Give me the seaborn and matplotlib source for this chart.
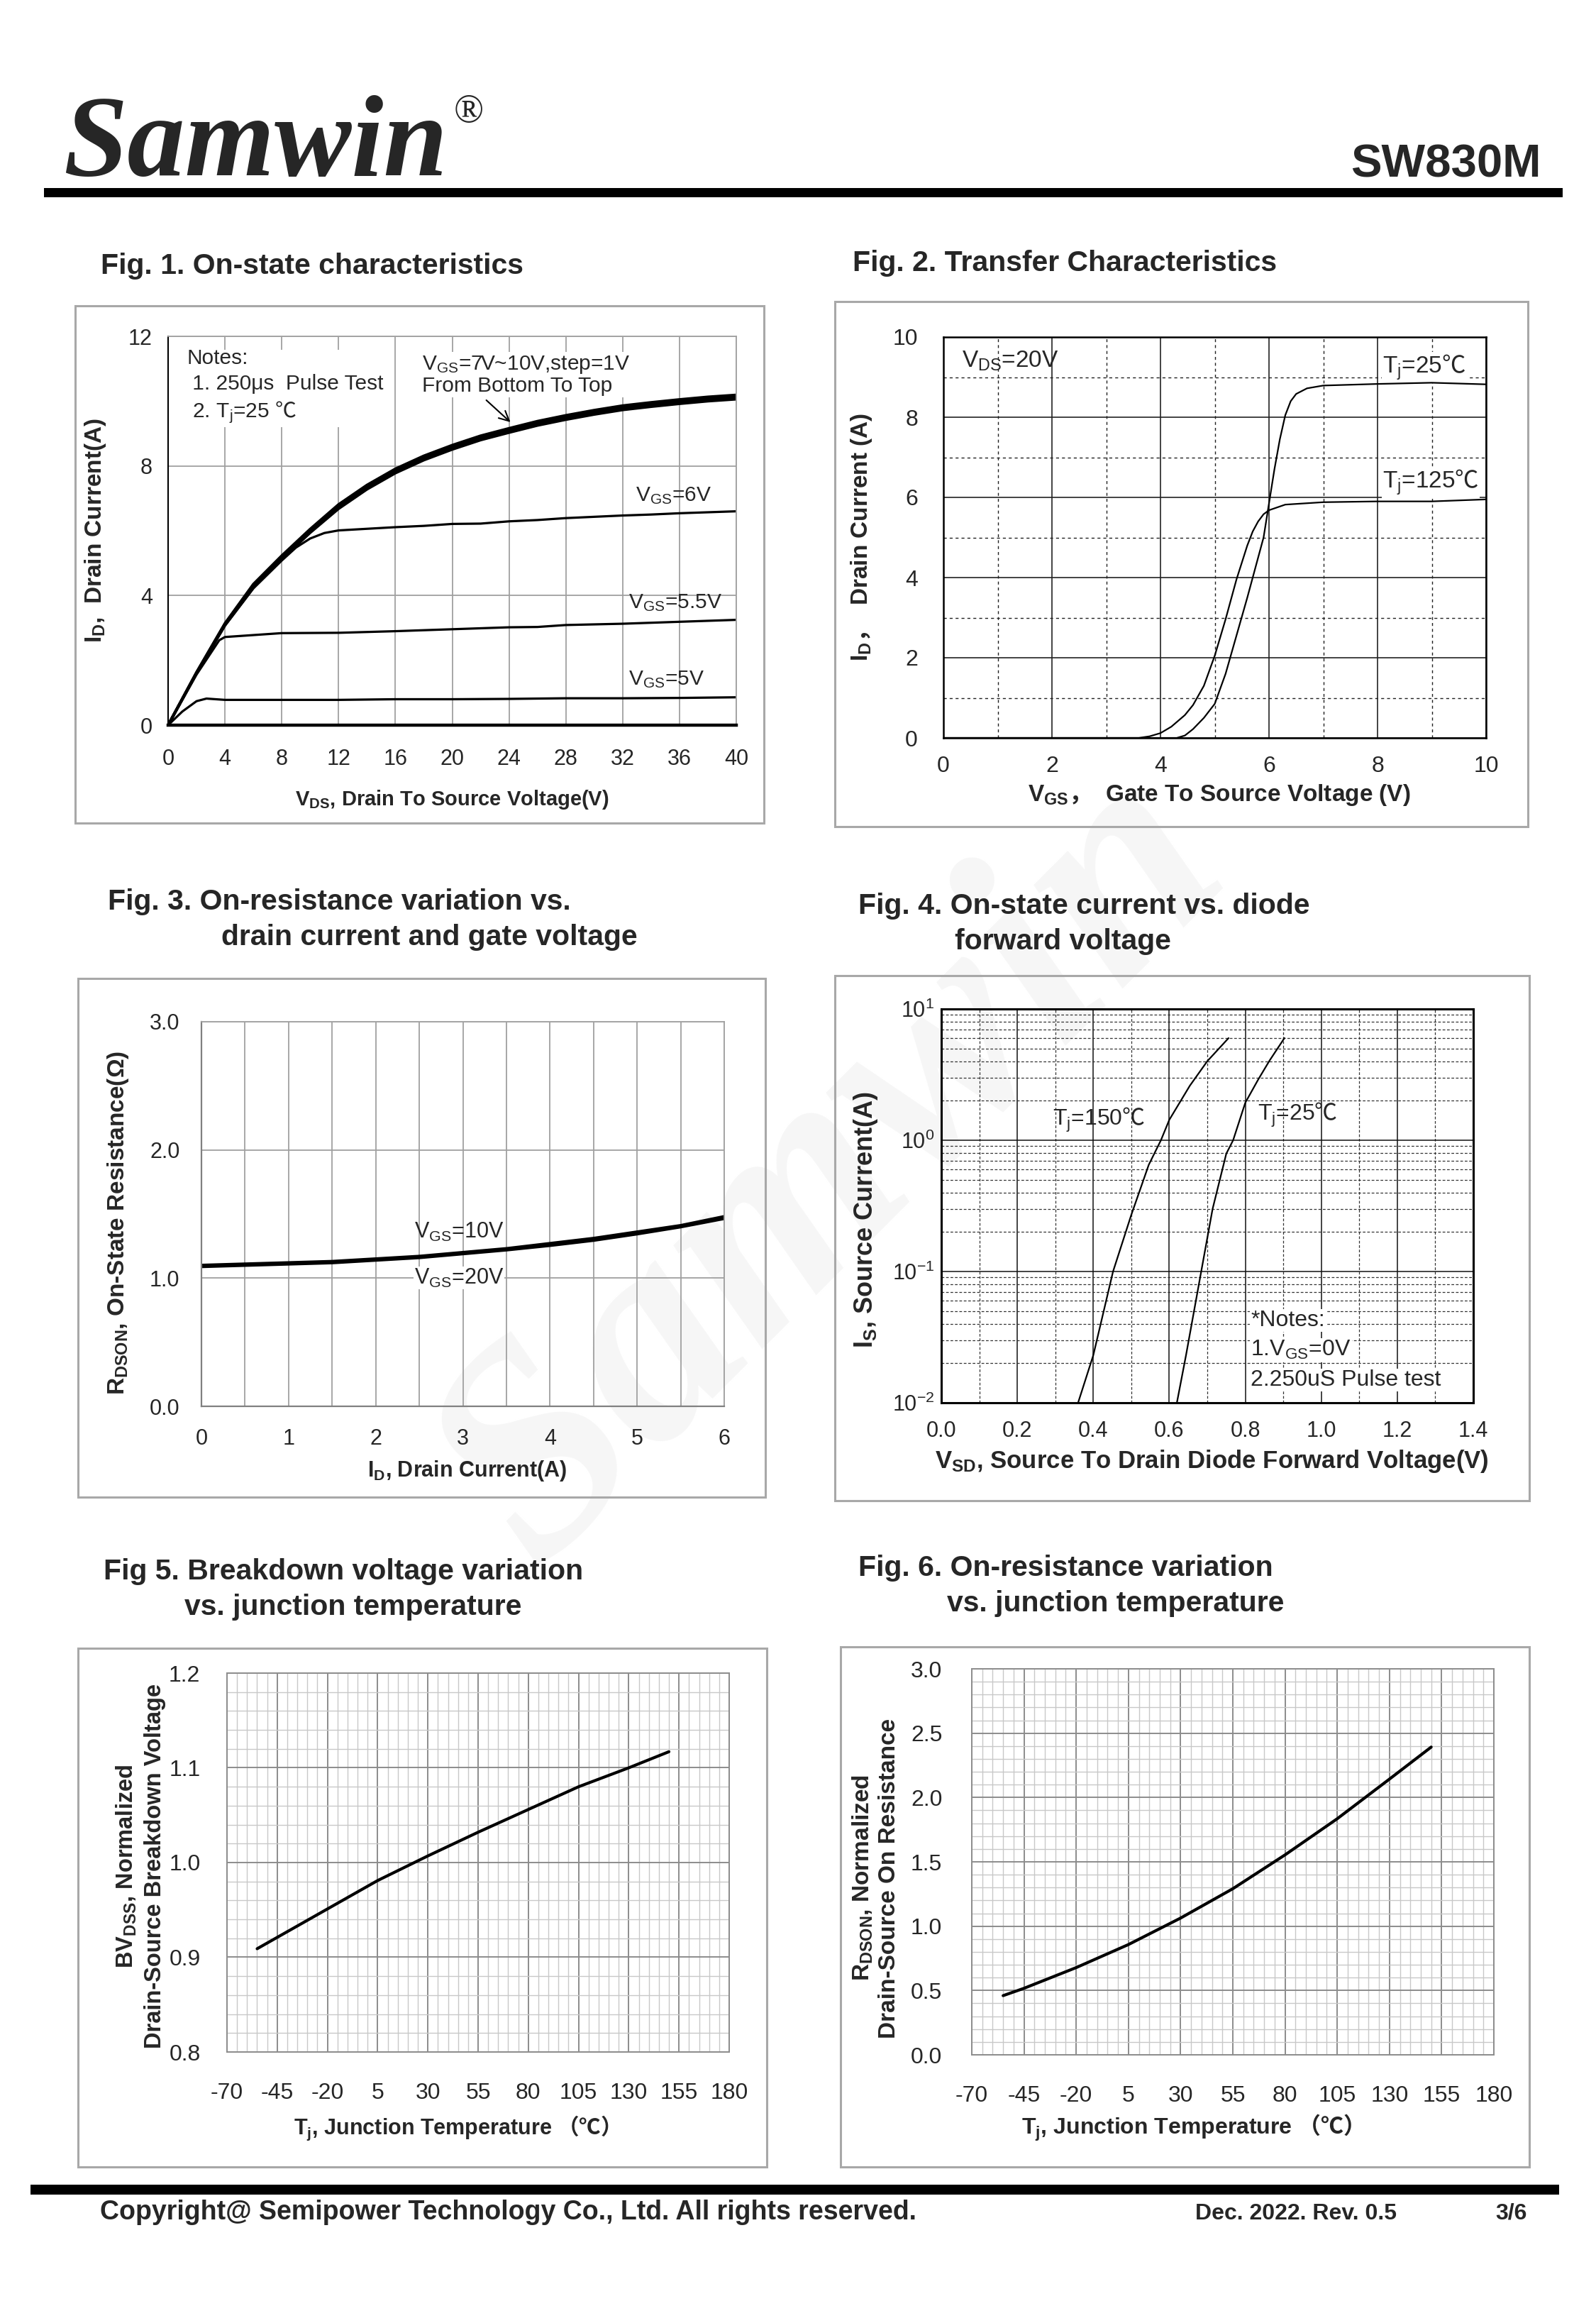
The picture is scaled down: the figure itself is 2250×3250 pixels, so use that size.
import matplotlib
matplotlib.use('Agg')
import matplotlib.pyplot as plt
import seaborn as sns
from matplotlib.patches import Rectangle
from matplotlib.ticker import MultipleLocator, FormatStrFormatter, LogLocator, NullFormatter

# ---- values ----
# Fig 1: on-state characteristics, VDS (V) -> ID (A)
vds = [0, 2, 4, 6, 8, 10, 12, 14, 16, 18, 20, 22, 24, 26, 28, 30, 32, 34, 36, 38, 40]
id_7v = [0, 1.60, 3.08, 4.24, 5.12, 5.94, 6.68, 7.28, 7.78, 8.18, 8.51, 8.80, 9.03, 9.25, 9.43, 9.59, 9.73, 9.83, 9.92, 10.00, 10.06]
id_8v = [0, 1.61, 3.10, 4.28, 5.16, 5.98, 6.73, 7.33, 7.83, 8.23, 8.56, 8.85, 9.08, 9.30, 9.48, 9.64, 9.78, 9.88, 9.97, 10.05, 10.11]
id_9v = [0, 1.62, 3.12, 4.32, 5.20, 6.02, 6.77, 7.37, 7.87, 8.27, 8.60, 8.89, 9.12, 9.34, 9.52, 9.68, 9.82, 9.92, 10.01, 10.09, 10.15]
id_10v = [0, 1.63, 3.14, 4.35, 5.23, 6.05, 6.81, 7.41, 7.91, 8.31, 8.64, 8.93, 9.16, 9.38, 9.56, 9.72, 9.86, 9.96, 10.05, 10.13, 10.19]
vds_6v = [0, 2, 4, 6, 8, 9, 10, 11, 12, 14, 16, 18, 20, 22, 24, 26, 28, 30, 32, 34, 36, 38, 40]
id_6v = [0, 1.60, 3.07, 4.22, 5.08, 5.48, 5.76, 5.93, 6.01, 6.06, 6.11, 6.15, 6.21, 6.22, 6.29, 6.33, 6.39, 6.43, 6.47, 6.50, 6.54, 6.57, 6.60]
vds_55v = [0, 2, 3.6, 4, 6, 8, 12, 16, 20, 24, 26, 28, 32, 36, 40]
id_55v = [0, 1.56, 2.62, 2.72, 2.78, 2.84, 2.85, 2.90, 2.96, 3.02, 3.03, 3.09, 3.13, 3.19, 3.25]
vds_5v = [0, 1, 2, 2.7, 4, 8, 12, 16, 20, 24, 28, 32, 36, 40]
id_5v = [0, 0.42, 0.74, 0.82, 0.78, 0.78, 0.78, 0.80, 0.80, 0.81, 0.83, 0.83, 0.84, 0.86]

# Fig 2: transfer characteristics, VGS (V) -> ID (A)
vgs_25 = [0, 4.3, 4.45, 4.6, 4.8, 5.0, 5.2, 5.4, 5.6, 5.8, 5.9, 6.0, 6.1, 6.2, 6.3, 6.4, 6.5, 6.7, 7.0, 8.0, 9.0, 10.0]
id_25 = [0, 0, 0.06, 0.22, 0.50, 0.85, 1.60, 2.55, 3.50, 4.50, 5.00, 5.85, 6.70, 7.45, 8.05, 8.40, 8.58, 8.72, 8.79, 8.83, 8.86, 8.82]
vgs_125 = [0, 3.6, 3.8, 4.0, 4.2, 4.45, 4.6, 4.8, 5.0, 5.2, 5.4, 5.6, 5.7, 5.8, 5.9, 6.0, 6.3, 7.0, 8.0, 9.0, 10.0]
id_125 = [0, 0, 0.04, 0.12, 0.28, 0.57, 0.82, 1.30, 2.05, 2.96, 3.95, 4.80, 5.15, 5.40, 5.58, 5.68, 5.82, 5.88, 5.90, 5.90, 5.95]

# Fig 3: on-resistance vs drain current
id_r = [0, 0.5, 1, 1.5, 2, 2.5, 3, 3.5, 4, 4.5, 5, 5.5, 6]
rds_10v = [1.10, 1.11, 1.12, 1.13, 1.15, 1.17, 1.20, 1.23, 1.27, 1.31, 1.36, 1.41, 1.48]
rds_20v = [1.09, 1.10, 1.11, 1.12, 1.14, 1.16, 1.19, 1.22, 1.255, 1.295, 1.345, 1.40, 1.465]

# Fig 4: body diode, VSD (V) -> IS (A)
vsd_150 = [0.36, 0.40, 0.452, 0.50, 0.546, 0.578, 0.60, 0.654, 0.70, 0.756]
is_150 = [0.01, 0.023, 0.1, 0.27, 0.65, 1.0, 1.43, 2.6, 4.0, 6.0]
vsd_25 = [0.62, 0.644, 0.684, 0.714, 0.75, 0.768, 0.80, 0.834, 0.864, 0.903]
is_25 = [0.01, 0.023, 0.1, 0.30, 0.79, 1.0, 1.93, 2.9, 4.05, 6.0]

# Fig 5 / Fig 6: vs junction temperature
tj = [-55, -45, -20, 5, 30, 55, 80, 105, 130, 150]
bvdss = [0.909, 0.921, 0.951, 0.981, 1.007, 1.032, 1.056, 1.080, 1.100, 1.117]
rdson_norm = [0.46, 0.517, 0.678, 0.857, 1.063, 1.291, 1.554, 1.835, 2.143, 2.392]

temp_ticks = [-70, -45, -20, 5, 30, 55, 80, 105, 130, 155, 180]

# ---- style ----
sns.set_theme(style='white')
plt.rcParams['font.family'] = ['Liberation Sans', 'Noto Sans CJK SC', 'DejaVu Sans']
plt.rcParams['mathtext.fontset'] = 'custom'
plt.rcParams['mathtext.rm'] = 'Liberation Sans'
plt.rcParams['mathtext.it'] = 'Liberation Sans:italic'
plt.rcParams['mathtext.bf'] = 'Liberation Sans:bold'
plt.rcParams['mathtext.sf'] = 'Noto Sans CJK SC'
plt.rcParams['mathtext.tt'] = 'Noto Sans CJK SC:bold'
plt.rcParams['axes.unicode_minus'] = False

W, H = 2250, 3250
fig = plt.figure(figsize=(W / 100, H / 100), dpi=100)
fig.patch.set_facecolor('white')


def add_ax(x0, y0, x1, y1):
    ax = fig.add_axes([x0 / W, 1 - y1 / H, (x1 - x0) / W, (y1 - y0) / H])
    ax.set_facecolor('none')
    ax.set_axisbelow(True)
    return ax


def ftext(x, y, s, **kw):
    return fig.text(x / W, 1 - y / H, s, **kw)


def panel(x0, y0, x1, y1):
    fig.add_artist(Rectangle((x0 / W, 1 - y1 / H), (x1 - x0) / W, (y1 - y0) / H,
                             transform=fig.transFigure, fill=False, ec='#a8a8a8', lw=2.2))


def bar(x0, y0, x1, y1):
    fig.add_artist(Rectangle((x0 / W, 1 - y1 / H), (x1 - x0) / W, (y1 - y0) / H,
                             transform=fig.transFigure, fc='black', ec='none'))


def line(ax, x, y, lw):
    sns.lineplot(x=x, y=y, ax=ax, color='black', linewidth=lw, sort=False, estimator=None)


WHITE = dict(fc='white', ec='none', pad=1)

# faint watermark behind everything
fig.text(1177 / W, 1 - 1650 / H, 'Samwin', rotation=45, fontsize=300, family='Liberation Serif',
         weight='bold', style='italic', color='#f6f6f6', ha='center', va='center', zorder=-10)

# ---- page header / footer ----
ftext(89, 247, 'Samwin', family='Liberation Serif', weight='bold', style='italic',
      fontsize=117, ha='left', va='baseline')
ftext(640, 158, '®', family='Liberation Serif', fontsize=40, ha='left', va='center')
ftext(2173, 250, 'SW830M', weight='bold', fontsize=47, ha='right', va='baseline')
bar(62, 265, 2203, 278)
bar(43, 3079, 2198, 3093)
ftext(141, 3118, 'Copyright@ Semipower Technology Co., Ltd. All rights reserved.',
      weight='bold', fontsize=27, ha='left', va='center')
ftext(1685, 3120, 'Dec. 2022. Rev. 0.5', weight='bold', fontsize=23, ha='left', va='center')
ftext(2108, 3120, '3/6', weight='bold', fontsize=23, ha='left', va='center')

TITLE = 29.5
ftext(142, 375, 'Fig. 1. On-state characteristics', weight='bold', fontsize=TITLE, va='center')
ftext(1202, 371, 'Fig. 2. Transfer Characteristics', weight='bold', fontsize=TITLE, va='center')
ftext(152, 1271, 'Fig. 3. On-resistance variation vs.', weight='bold', fontsize=TITLE, va='center')
ftext(312, 1321, 'drain current and gate voltage', weight='bold', fontsize=TITLE, va='center')
ftext(1210, 1277, 'Fig. 4. On-state current vs. diode', weight='bold', fontsize=TITLE, va='center')
ftext(1346, 1327, 'forward voltage', weight='bold', fontsize=TITLE, va='center')
ftext(146, 2215, 'Fig 5. Breakdown voltage variation', weight='bold', fontsize=TITLE, va='center')
ftext(260, 2265, 'vs. junction temperature', weight='bold', fontsize=TITLE, va='center')
ftext(1210, 2210, 'Fig. 6. On-resistance variation', weight='bold', fontsize=TITLE, va='center')
ftext(1335, 2260, 'vs. junction temperature', weight='bold', fontsize=TITLE, va='center')

panel(106, 431, 1077, 1160)
panel(1177, 425, 2154, 1165)
panel(110, 1379, 1079, 2110)
panel(1177, 1375, 2156, 2115)
panel(110, 2323, 1081, 3054)
panel(1185, 2321, 2156, 3054)

# ---- Fig 1 ----
ax1 = add_ax(237, 474, 1038, 1022)
for series in [id_7v, id_8v, id_9v, id_10v]:
    line(ax1, vds, series, 2.8)
line(ax1, vds_6v, id_6v, 2.3)
line(ax1, vds_55v, id_55v, 2.3)
line(ax1, vds_5v, id_5v, 2.3)
ax1.set_xlim(0, 40)
ax1.set_ylim(0, 12)
ax1.xaxis.set_major_locator(MultipleLocator(4))
ax1.yaxis.set_major_locator(MultipleLocator(4))
ax1.grid(True, color='#a0a0a0', lw=1.3)
for s in ['top', 'right']:
    ax1.spines[s].set_color('#a0a0a0')
    ax1.spines[s].set_linewidth(1.3)
ax1.spines['left'].set_color('black')
ax1.spines['left'].set_linewidth(1.5)
ax1.spines['bottom'].set_color('black')
ax1.spines['bottom'].set_linewidth(3.2)
ax1.tick_params(direction='out', length=4, width=1.2, color='black', labelsize=22)
ax1.tick_params(axis='x', pad=20)
ax1.tick_params(axis='y', pad=12)
ax1.set_xlabel('')
ax1.set_ylabel('')
ax1.text(1.3, 11.62, 'Notes:\n 1. 250μs  Pulse Test\n 2. T$_{\\mathrm{j}}$=25 $\\mathsf{℃}$', fontsize=21.5,
         ha='left', va='top', linespacing=1.35, bbox=dict(fc='white', ec='none', pad=2), zorder=1.5)
ax1.text(17.9, 11.45, 'V$_{\\mathrm{GS}}$=7V~10V,step=1V\nFrom Bottom To Top', fontsize=21.5,
         ha='left', va='top', linespacing=1.05, bbox=WHITE, zorder=1.5)
ax1.annotate('', xy=(24.2, 9.31), xytext=(22.3, 10.07),
             arrowprops=dict(arrowstyle='->', color='black', lw=1.5, mutation_scale=25))
ax1.text(32.9, 7.08, 'V$_{\\mathrm{GS}}$=6V', fontsize=21.5, ha='left', va='center')
ax1.text(32.4, 3.77, 'V$_{\\mathrm{GS}}$=5.5V', fontsize=21.5, ha='left', va='center')
ax1.text(32.4, 1.41, 'V$_{\\mathrm{GS}}$=5V', fontsize=21.5, ha='left', va='center')
ftext(637, 1127, 'V$_{\\mathbf{DS}}$, Drain To Source Voltage(V)', weight='bold', fontsize=21,
      ha='center', va='center')
ftext(135, 748, 'I$_{\\mathbf{D}}$,  Drain Current(A)', weight='bold', fontsize=24,
      ha='center', va='center', rotation=90)

# ---- Fig 2 ----
ax2 = add_ax(1330, 475, 2095, 1040)
line(ax2, vgs_25, id_25, 1.6)
line(ax2, vgs_125, id_125, 1.6)
ax2.set_xlim(0, 10)
ax2.set_ylim(0, 10)
ax2.xaxis.set_major_locator(MultipleLocator(2))
ax2.xaxis.set_minor_locator(MultipleLocator(1))
ax2.yaxis.set_major_locator(MultipleLocator(2))
ax2.yaxis.set_minor_locator(MultipleLocator(1))
ax2.grid(True, which='major', color='#222222', lw=1.2)
ax2.grid(True, which='minor', color='#222222', lw=1.0, ls=(0, (3, 3)))
for s in ax2.spines.values():
    s.set_color('black')
    s.set_linewidth(1.8)
ax2.tick_params(which='both', direction='out', length=6, width=1.2, color='black', labelsize=23)
ax2.tick_params(axis='x', which='major', pad=12)
ax2.tick_params(axis='y', which='major', pad=20)
ax2.set_xlabel('')
ax2.set_ylabel('')
ax2.text(0.34, 9.4, 'V$_{\\mathrm{DS}}$=20V', fontsize=24, ha='left', va='center')
ax2.text(8.09, 9.24, 'T$_{\\mathrm{j}}$=25$\\mathsf{℃}$', fontsize=24, ha='left', va='center',
         bbox=WHITE, zorder=1.5)
ax2.text(8.09, 6.37, 'T$_{\\mathrm{j}}$=125$\\mathsf{℃}$', fontsize=24, ha='left', va='center',
         bbox=WHITE, zorder=1.5)
ftext(1719, 1120, 'V$_{\\mathbf{GS}}\\mathtt{，}$  Gate To Source Voltage (V)', weight='bold',
      fontsize=24, ha='center', va='center')
ftext(1215, 757, 'I$_{\\mathbf{D}}\\mathtt{，}$  Drain Current (A)', weight='bold', fontsize=24,
      ha='center', va='center', rotation=90)

# ---- Fig 3 ----
ax3 = add_ax(284, 1440, 1021, 1982)
line(ax3, id_r, rds_10v, 3.2)
line(ax3, id_r, rds_20v, 3.2)
ax3.set_xlim(0, 6)
ax3.set_ylim(0, 3)
ax3.xaxis.set_major_locator(MultipleLocator(1))
ax3.xaxis.set_minor_locator(MultipleLocator(0.5))
ax3.yaxis.set_major_locator(MultipleLocator(1))
ax3.yaxis.set_major_formatter(FormatStrFormatter('%.1f'))
ax3.grid(True, which='both', axis='x', color='#a0a0a0', lw=1.3)
ax3.grid(True, which='major', axis='y', color='#a0a0a0', lw=1.3)
for s in ['top', 'right']:
    ax3.spines[s].set_color('#a0a0a0')
    ax3.spines[s].set_linewidth(1.3)
for s in ['left', 'bottom']:
    ax3.spines[s].set_color('#808080')
    ax3.spines[s].set_linewidth(1.6)
ax3.tick_params(which='major', direction='out', length=6, width=1.2, color='#808080', labelsize=22)
ax3.tick_params(which='minor', length=0)
ax3.tick_params(axis='x', pad=16)
ax3.tick_params(axis='y', pad=16)
ax3.set_xlabel('')
ax3.set_ylabel('')
ax3.text(2.44, 1.36, 'V$_{\\mathrm{GS}}$=10V', fontsize=22, ha='left', va='center')
ax3.text(2.44, 1.0, 'V$_{\\mathrm{GS}}$=20V', fontsize=22, ha='left', va='center',
         bbox=dict(fc='white', ec='none', pad=0.5), zorder=1.5)
ftext(659, 2073, 'I$_{\\mathbf{D}}$, Drain Current(A)', weight='bold', fontsize=22,
      ha='center', va='center')
ftext(167, 1723, 'R$_{\\mathbf{DSON}}$, On-State Resistance(Ω)', weight='bold', fontsize=24,
      ha='center', va='center', rotation=90)

# ---- Fig 4 ----
ax4 = add_ax(1327, 1422, 2077, 1977)
line(ax4, vsd_150, is_150, 1.6)
line(ax4, vsd_25, is_25, 1.6)
ax4.set_yscale('log')
ax4.set_xlim(0, 1.4)
ax4.set_ylim(0.01, 10)
ax4.xaxis.set_major_locator(MultipleLocator(0.2))
ax4.xaxis.set_minor_locator(MultipleLocator(0.1))
ax4.xaxis.set_major_formatter(FormatStrFormatter('%.1f'))
ax4.yaxis.set_major_locator(LogLocator(base=10, numticks=10))
ax4.yaxis.set_minor_locator(LogLocator(base=10, subs=range(2, 10), numticks=10))
ax4.yaxis.set_minor_formatter(NullFormatter())
ax4.grid(True, which='major', color='#111111', lw=1.1)
ax4.grid(True, which='minor', color='#333333', lw=0.9, ls=(0, (3, 2)))
for s in ax4.spines.values():
    s.set_color('black')
    s.set_linewidth(2.2)
ax4.tick_params(which='major', direction='out', length=8, width=1.5, color='black', labelsize=22)
ax4.tick_params(which='minor', direction='out', length=5, width=1.2, color='black')
ax4.tick_params(axis='x', which='major', pad=10)
ax4.tick_params(axis='y', which='both', length=4)
ax4.tick_params(axis='y', which='major', pad=3)
ax4.set_xlabel('')
ax4.set_ylabel('')
ax4.text(0.293, 1.42, 'T$_{\\mathrm{j}}$=150$\\mathsf{℃}$', fontsize=23, ha='left', va='center')
ax4.text(0.833, 1.55, 'T$_{\\mathrm{j}}$=25$\\mathsf{℃}$', fontsize=23, ha='left', va='center')
for yy, s in [(0.0424, '*Notes:'), (0.0252, '1.V$_{\\mathrm{GS}}$=0V'), (0.0149, '2.250uS Pulse test')]:
    ax4.text(0.814, yy, s, fontsize=23, ha='left', va='center', bbox=WHITE, zorder=1.5)
ftext(1708, 2060, 'V$_{\\mathbf{SD}}$, Source To Drain Diode Forward Voltage(V)', weight='bold',
      fontsize=25, ha='center', va='center')
ftext(1221, 1719, 'I$_{\\mathbf{S}}$, Source Current(A)', weight='bold', fontsize=26,
      ha='center', va='center', rotation=90)


# ---- Fig 5 / Fig 6 ----
def temp_axes(ax, ymin, ymax, ymaj, ymin_step):
    ax.set_xlim(-70, 180)
    ax.set_ylim(ymin, ymax)
    ax.set_xticks(temp_ticks)
    ax.xaxis.set_minor_locator(MultipleLocator(5))
    ax.yaxis.set_major_locator(MultipleLocator(ymaj))
    ax.yaxis.set_minor_locator(MultipleLocator(ymin_step))
    ax.yaxis.set_major_formatter(FormatStrFormatter('%.1f'))
    ax.grid(True, which='minor', color='#c8c8c8', lw=1.0)
    ax.grid(True, which='major', color='#8c8c8c', lw=1.4)
    for s in ax.spines.values():
        s.set_color('#8c8c8c')
        s.set_linewidth(1.4)
    ax.tick_params(which='minor', length=0)
    ax.tick_params(axis='x', which='major', direction='out', length=9, width=1.2,
                   color='#8c8c8c', labelsize=23, pad=22)
    ax.tick_params(axis='y', which='major', length=0, labelsize=23, pad=27)
    ax.set_xlabel('')
    ax.set_ylabel('')


ax5 = add_ax(320, 2358, 1028, 2892)
line(ax5, tj, bvdss, 3.0)
temp_axes(ax5, 0.8, 1.2, 0.1, 0.02)
ftext(636, 2999, 'T$_{\\mathbf{j}}$, Junction Temperature $\\mathtt{（℃）}$', weight='bold', fontsize=22,
      ha='center', va='center')
ftext(178, 2630, 'BV$_{\\mathbf{DSS}}$, Normalized', weight='bold', fontsize=23.5,
      ha='center', va='center', rotation=90)
ftext(219, 2630, 'Drain-Source Breakdown Voltage', weight='bold', fontsize=23.5,
      ha='center', va='center', rotation=90)

ax6 = add_ax(1370, 2352, 2106, 2896)
line(ax6, tj, rdson_norm, 3.0)
temp_axes(ax6, 0.0, 3.0, 0.5, 0.1)
ax6.tick_params(axis='y', which='major', pad=30)
ftext(1673, 2999, 'T$_{\\mathbf{j}}$, Junction Temperature $\\mathtt{（℃）}$', weight='bold', fontsize=23,
      ha='center', va='center')
ftext(1216, 2647, 'R$_{\\mathbf{DSON}}$, Normalized', weight='bold', fontsize=24,
      ha='center', va='center', rotation=90)
ftext(1253, 2647, 'Drain-Source On Resistance', weight='bold', fontsize=24,
      ha='center', va='center', rotation=90)

fig.savefig('out.png', dpi=100, facecolor='white')
